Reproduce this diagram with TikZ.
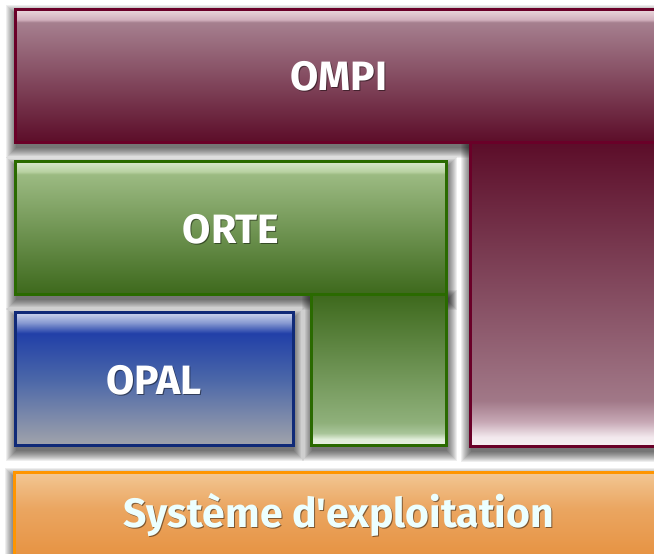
\documentclass[tikz,border=0pt]{standalone}
\usepackage{fontspec}
\setmainfont{Fira Sans}[Ligatures=TeXOff]
\pgfdeclarelayer{shadowlayer}
\pgfsetlayers{shadowlayer,main}
% colours
\definecolor{ompiBorder}{HTML}{6A0028}
\definecolor{orteBorder}{HTML}{2A6A00}
\definecolor{opalBorder}{HTML}{102A78}
\definecolor{osBorder}{HTML}{FF9500}
\definecolor{osText}{HTML}{ECFFFF}
% shadings (25bp = bottom of path, 75bp = top of path)
\pgfdeclareverticalshading{ompiTop}{100bp}{%
 rgb(0bp)=(0.36,0.05,0.16); rgb(25bp)=(0.36,0.05,0.16); rgb(70bp)=(0.65,0.50,0.56); rgb(71bp)=(0.82,0.69,0.74); rgb(75bp)=(0.92,0.85,0.87); rgb(100bp)=(0.92,0.85,0.87)}
\pgfdeclareverticalshading{ompiVert}{100bp}{%
 rgb(0bp)=(0.97,0.94,0.95); rgb(25bp)=(0.97,0.94,0.95); rgb(26.5bp)=(0.95,0.91,0.93); rgb(29bp)=(0.78,0.66,0.71); rgb(32.5bp)=(0.63,0.47,0.53); rgb(75bp)=(0.36,0.05,0.16); rgb(100bp)=(0.36,0.05,0.16)}
\pgfdeclareverticalshading{orteTop}{100bp}{%
 rgb(0bp)=(0.24,0.41,0.11); rgb(25bp)=(0.24,0.41,0.11); rgb(70bp)=(0.61,0.73,0.51); rgb(71bp)=(0.72,0.82,0.63); rgb(75bp)=(0.86,0.91,0.82); rgb(100bp)=(0.86,0.91,0.82)}
\pgfdeclareverticalshading{orteVert}{100bp}{%
 rgb(0bp)=(0.91,0.94,0.89); rgb(25bp)=(0.91,0.94,0.89); rgb(27bp)=(0.88,0.93,0.85); rgb(29bp)=(0.66,0.77,0.60); rgb(32.5bp)=(0.56,0.69,0.48); rgb(75bp)=(0.24,0.41,0.11); rgb(100bp)=(0.24,0.41,0.11)}
\pgfdeclareverticalshading{opalShade}{100bp}{%
 rgb(0bp)=(0.63,0.64,0.67); rgb(25bp)=(0.63,0.64,0.67); rgb(50bp)=(0.29,0.40,0.66); rgb(67bp)=(0.13,0.25,0.66); rgb(71bp)=(0.53,0.60,0.82); rgb(75bp)=(0.82,0.85,0.94); rgb(100bp)=(0.82,0.85,0.94)}
\pgfdeclareverticalshading{osShade}{100bp}{%
 rgb(0bp)=(0.89,0.52,0.17); rgb(25bp)=(0.89,0.52,0.17); rgb(60bp)=(0.92,0.65,0.38); rgb(75bp)=(0.95,0.78,0.58); rgb(100bp)=(0.95,0.78,0.58)}
\tikzset{
 layerbox/.style={draw, line width=3pt, inner sep=0pt, outer sep=0pt, anchor=north west},
 shadowpiece/.style={fill=black, opacity=0.065, draw=none},
 label/.style={text=white, font=\fontsize{41}{46}\selectfont\bfseries},
 labelshadow/.style={text=black, opacity=0.45, font=\fontsize{41}{46}\selectfont\bfseries},
}
\newcommand{\softshadow}[1]{%
 \begin{pgfonlayer}{shadowlayer}
 \foreach \r in {0,...,10}{
  \fill[shadowpiece] ([xshift=1pt-\r pt, yshift=-6pt+\r pt]#1.north west) rectangle ([xshift=1pt+\r pt, yshift=-6pt-\r pt]#1.south east);
 }
 \end{pgfonlayer}}
\begin{document}
\begin{tikzpicture}[x=1pt,y=-1pt]
\useasboundingbox (0,0) rectangle (654,554);
\begin{pgfonlayer}{shadowlayer}
\fill[white] (0,0) rectangle (654,554);
\end{pgfonlayer}
% OMPI
\node[layerbox, draw=ompiBorder, shading=ompiTop, minimum width=680pt, minimum height=133pt] (ompiTop) at (15,9) {};
\node[layerbox, draw=ompiBorder, shading=ompiVert, minimum width=210pt, minimum height=304pt] (ompiVert) at (470,142) {};
% ORTE
\node[layerbox, draw=orteBorder, shading=orteTop, minimum width=431pt, minimum height=133pt] (orteTop) at (15,161) {};
\node[layerbox, draw=orteBorder, shading=orteVert, minimum width=135pt, minimum height=151pt] (orteVert) at (311,294) {};
% OPAL
\node[layerbox, draw=opalBorder, shading=opalShade, minimum width=278pt, minimum height=133pt] (opal) at (15,312) {};
% OS
\node[layerbox, draw=osBorder, shading=osShade, minimum width=670pt, minimum height=120pt] (os) at (14,472) {};
% shadows
\softshadow{ompiTop}
\softshadow{ompiVert}
\softshadow{orteTop}
\softshadow{orteVert}
\softshadow{opal}
\softshadow{os}
% labels (soft dark halo, then white text)
\node[labelshadow] (ompiHalo) at (340,77) {OMPI};
\node[labelshadow] (orteHalo) at (232,230) {ORTE};
\node[labelshadow] (opalHalo) at (155,381) {OPAL};
\node[label] (ompiLabel) at (339,76) {OMPI};
\node[label] (orteLabel) at (231,229) {ORTE};
\node[label] (opalLabel) at (154,380) {OPAL};
\node[labelshadow, font=\fontsize{41}{46}\selectfont\bfseries] (osHalo) at (340,516) {Système d'exploitation};
\node[label, text=osText, font=\fontsize{41}{46}\selectfont\bfseries] (osLabel) at (339,515) {Système d'exploitation};
\end{tikzpicture}
\end{document}
